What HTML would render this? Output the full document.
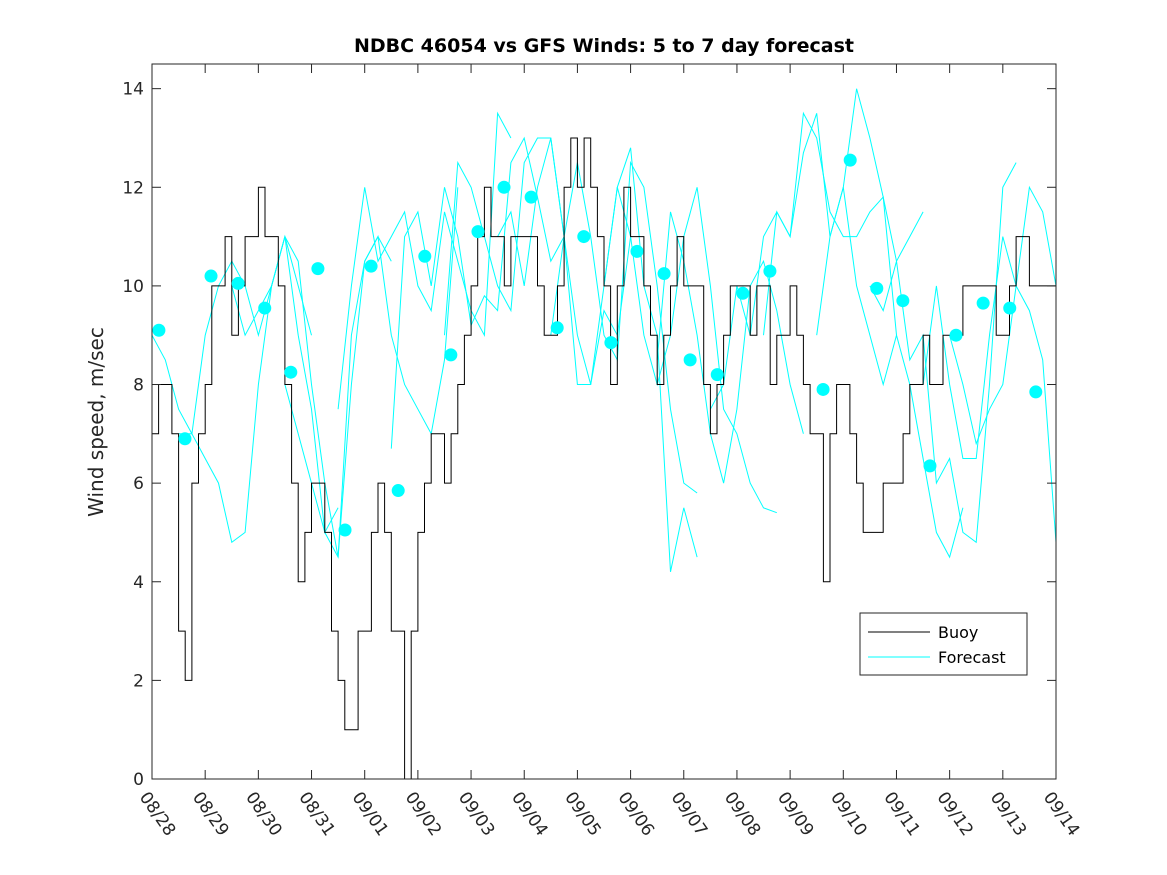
<!DOCTYPE html>
<html><head><meta charset="utf-8"><style>
body{margin:0;background:#fff;}
svg{display:block;font-family:"DejaVu Sans","Liberation Sans",sans-serif;}
</style></head><body>
<svg id="chart" width="1167" height="875" viewBox="0 0 1167 875">
<rect width="1167" height="875" fill="#fff"/>
<text x="604" y="52" text-anchor="middle" font-size="19" font-weight="bold" fill="#000">NDBC 46054 vs GFS Winds: 5 to 7 day forecast</text>
<text transform="translate(103,422) rotate(-90)" text-anchor="middle" font-size="20" fill="#262626">Wind speed, m/sec</text>
<g id="plot"></g>
<g id="axes"></g>
<g>
<rect x="860" y="613" width="167" height="62" fill="#fff" stroke="#262626" stroke-width="1"/>
<line x1="868" y1="632" x2="930" y2="632" stroke="#000"/>
<text x="938" y="638" font-size="16" fill="#000">Buoy</text>
<line x1="868" y1="657" x2="930" y2="657" stroke="#0ff"/>
<text x="938" y="663" font-size="16" fill="#000">Forecast</text>
</g>
</svg>
<script>
const xTickLabels=["08/28","08/29","08/30","08/31","09/01","09/02","09/03","09/04","09/05","09/06","09/07","09/08","09/09","09/10","09/11","09/12","09/13","09/14"];
const yTicks=[0,2,4,6,8,10,12,14];
// buoy, 3-hourly values starting 08/28 00:00 (8 per day)
const buoy=[7,8,8,7,3,2,6,7,
 8,10,10,11,9,10,11,11,
 12,11,11,10,8,6,4,5,
 6,6,5,3,2,1,1,3,
 3,5,6,5,3,3,0,3,
 5,6,7,7,6,7,8,9,
 10,11,12,11,11,10,11,11,
 11,11,10,9,9,10,12,13,
 12,13,12,11,10,8,10,12,
 11,11,10,9,8,9,10,11,
 10,10,10,8,7,8,9,10,
 10,10,9,10,10,8,9,9,
 10,9,8,7,7,4,7,8,
 8,7,6,5,5,5,6,6,
 6,7,8,8,9,8,8,9,
 9,9,10,10,10,10,10,9,
 9,10,11,11,10,10,10,10];
const dotDays=[0.13,0.62,1.11,1.62,2.12,2.61,3.12,3.63,4.12,4.63,5.13,5.62,6.13,6.62,7.13,7.62,8.12,8.63,9.12,9.63,10.12,10.63,11.11,11.62,12.62,13.13,13.63,14.12,14.63,15.12,15.63,16.13,16.62];
const dotVals=[9.1,6.9,10.2,10.05,9.55,8.25,10.35,5.05,10.4,5.85,10.6,8.6,11.1,12.0,11.8,9.15,11.0,8.85,10.7,10.25,8.5,8.2,9.85,10.3,7.9,12.55,9.95,9.7,6.35,9.0,9.65,9.55,7.85];
// forecast segments: start day, values every 6 h
const fcStarts=[0,0.5,1.5,2.5,3.5,4.5,5.5,6.5,7.5,8.5,9.5,10.5,11.5,12.5,13.5,14.5,15.0];
const fcVals=[
 [9,8.5,7.5,7,9,10,10.5,10,9,10,11,10,9],
 [7,7,6.5,6,4.8,5,8,10,11,9,7.5,5,5.5],
 [10,9,9.5,10,11,10.5,8,6,4.5,8,10.5,11,10.5],
 [8,7,6,5,4.5,9,10.5,11,9,8,7.5,7,8.5,12],
 [7.5,10,12,10.5,11,11.5,10,9.5,11.5,10.5,9.5,9,13.5,13],
 [6.7,11,11.5,10,12,11,9.2,9.8,9.5,12.5,13,11.8,10.5,11],
 [9,12.5,12,11,10,9.5,12.5,13,13,11,9,8,9.5,9,11],
 [11,11.5,10,12,13,11,8,8,10,12,12.8,10,9,4.2,5.5,4.5],
 [9,11,12.5,11,9,8.5,12.5,12,10,7.5,6,5.8],
 [10,12,11,9,8,9,11,12,10,7.5,7,6,5.5,5.4],
 [8.5,11.5,10.5,9,7,6,7.5,10,10.5,9.5,8,7],
 [7.5,8,10,9,11,11.5,11,13.5,13,11.5,11,11,11.5,11.8,9],
 [9,11.5,11,12.7,13.5,11,12,14,13,11.8,10.5,11,11.5],
 [9,11,12,10,9,8,9,8,6.5,5,4.5,5.5],
 [10,9.5,10.5,8.5,9,6,6.5,5,4.8,8,12,12.5],
 [8,10,8,6.5,6.5,9,11,10,9.5,8.5,4.8],
 [9,8,6.8,7.5,8,10,12,11.5,10,9.5,8,6,5.6,6,11,12]
];
const X0=152,X1=1056,Y0=779,YT=64;
const xs=d=>X0+(X1-X0)*d/17;
const ys=v=>Y0-(Y0-YT)*v/14.5;
const NS="http://www.w3.org/2000/svg";
const plot=document.getElementById('plot'),axes=document.getElementById('axes');
function mk(t,a,p){const e=document.createElementNS(NS,t);for(const k in a)e.setAttribute(k,a[k]);p.appendChild(e);return e;}
const defs=mk('defs',{},plot);const cp=mk('clipPath',{id:'cp'},defs);mk('rect',{x:X0,y:YT,width:X1-X0,height:Y0-YT},cp);
const g=mk('g',{'clip-path':'url(#cp)'},plot);
fcVals.forEach((vals,i)=>{
 const pts=vals.map((v,j)=>xs(fcStarts[i]+j*0.25).toFixed(1)+','+ys(v).toFixed(1)).join(' ');
 const pl=mk('polyline',{points:pts,fill:'none',stroke:'#0ff','stroke-width':1},g);
 
 
});
let d='';
buoy.forEach((v,i)=>{const x0=xs(i/8),x1=xs((i+1)/8),y=ys(v);d+=(i?'L':'M')+x0.toFixed(1)+','+y.toFixed(1)+'L'+x1.toFixed(1)+','+y.toFixed(1);});
const bp=mk('path',{d:d,fill:'none',stroke:'#000','stroke-width':1},g);


dotDays.forEach((dd,i)=>{
 const c=mk('circle',{cx:xs(dd),cy:ys(dotVals[i]),r:6.5,fill:'#0ff'},g);
 
 
});
const box=mk('rect',{x:X0,y:YT,width:X1-X0,height:Y0-YT,fill:'none',stroke:'#262626','stroke-width':1},axes);


yTicks.forEach(v=>{
 const y=ys(v);
 mk('line',{x1:X0,y1:y,x2:X0+9,y2:y,stroke:'#262626'},axes);
 mk('line',{x1:X1,y1:y,x2:X1-9,y2:y,stroke:'#262626'},axes);
 const t=mk('text',{x:X0-8,y:y+6,'text-anchor':'end','font-size':17,fill:'#262626'},axes);
 t.textContent=v;
 
 
});
xTickLabels.forEach((lab,i)=>{
 const x=xs(i);
 mk('line',{x1:x,y1:Y0,x2:x,y2:Y0-9,stroke:'#262626'},axes);
 mk('line',{x1:x,y1:YT,x2:x,y2:YT+9,stroke:'#262626'},axes);
 const t=mk('text',{transform:`translate(${x-13},${Y0+18}) rotate(55)`,'font-size':17,fill:'#262626'},axes);
 t.textContent=lab;
 
 
});
</script>
</body></html>
